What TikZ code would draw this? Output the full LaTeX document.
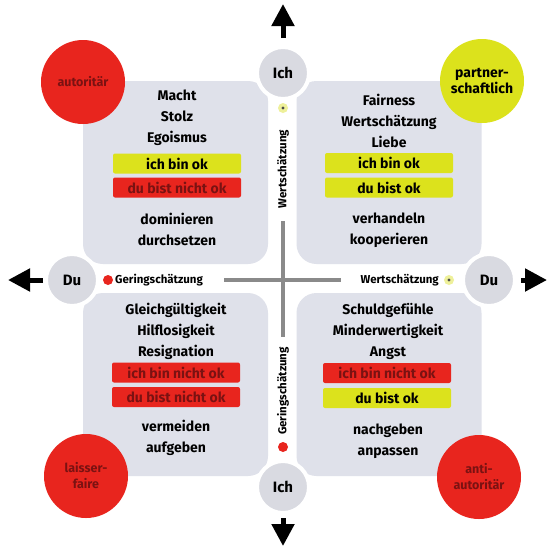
\documentclass[tikz,border=0pt]{standalone}
\usepackage{fontspec}
\setmainfont{Fira Sans}
\usetikzlibrary{arrows.meta}
\definecolor{boxgray}{HTML}{DFE1EA}
\definecolor{circgray}{HTML}{D9DAE1}
\definecolor{myred}{HTML}{E8251E}
\definecolor{myyellow}{HTML}{DCE21C}
\definecolor{darkred}{HTML}{7A1212}
\definecolor{axisgray}{HTML}{8A8A8A}
\definecolor{paleyellow}{HTML}{EEF09A}
\begin{document}
\begin{tikzpicture}[x=1pt,y=-1pt,
  quad/.style={fill=boxgray, rounded corners=20pt, minimum width=185pt, minimum height=183pt, inner sep=0pt},
  bigtext/.style={align=center, font=\fontsize{14}{21}\selectfont\bfseries, inner sep=0pt},
  ybar/.style={fill=myyellow, rounded corners=2pt, minimum width=128pt, minimum height=20pt, inner sep=0pt, font=\fontsize{14}{15}\selectfont\bfseries},
  rbar/.style={fill=myred, rounded corners=2pt, minimum width=128pt, minimum height=20pt, inner sep=0pt, text=darkred, font=\fontsize{14}{15}\selectfont\bfseries},
  axcirc/.style={circle, fill=circgray, draw=white, line width=4pt, minimum size=52pt, inner sep=0pt, font=\fontsize{15}{16}\selectfont\bfseries},
  stylecirc/.style={circle, minimum size=84pt, inner sep=0pt, align=center, font=\fontsize{12.5}{16}\selectfont\bfseries},
  smalltext/.style={font=\fontsize{11.5}{12}\selectfont\bfseries, inner sep=0pt},
  bigarrow/.style={-{Triangle[width=22pt,length=22pt]}, line width=5pt},
  axisline/.style={draw=axisgray, line width=4pt}
]
\useasboundingbox (0,0) rectangle (548,547);
\fill[white] (0,0) rectangle (548,547);

% quadrant boxes
\node[quad] (qTL) at (175.5,172.5) {};
\node[quad] (qTR) at (389,172.5) {};
\node[quad] (qBL) at (175.5,384.5) {};
\node[quad] (qBR) at (389,384.5) {};

% axis lines
\coordinate (vT) at (283,221);
\coordinate (vB) at (283,337);
\coordinate (hL) at (224,280);
\coordinate (hR) at (341,280);
\draw[axisline] (vT) -- (vB);
\draw[axisline] (hL) -- (hR);

% axis circles
\node[axcirc] (ichT) at (283,73) {Ich};
\node[axcirc] (ichB) at (283,487) {Ich};
\node[axcirc] (duL) at (72,280) {Du};
\node[axcirc] (duR) at (489,280) {Du};

% arrows
\coordinate (aU1) at (283,38);
\coordinate (aU2) at (283,4);
\coordinate (aD1) at (283,518);
\coordinate (aD2) at (283,546);
\coordinate (aL1) at (43,280);
\coordinate (aL2) at (8,280);
\coordinate (aR1) at (521,280);
\coordinate (aR2) at (547,280);
\draw[bigarrow] (aU1) -- (aU2);
\draw[bigarrow] (aD1) -- (aD2);
\draw[bigarrow] (aL1) -- (aL2);
\draw[bigarrow] (aR1) -- (aR2);

% dots
\node[circle, fill=paleyellow, minimum size=10pt, inner sep=0pt] (dotT) at (283,108) {};
\fill[black!70] (dotT) circle (1.6pt);
\node[circle, fill=myred, minimum size=10pt, inner sep=0pt] (dotB) at (283,447) {};
\node[circle, fill=myred, minimum size=10pt, inner sep=0pt] (dotL) at (108,280) {};
\node[circle, fill=paleyellow, minimum size=10pt, inner sep=0pt] (dotR) at (449,280) {};
\fill[black!70] (dotR) circle (1.6pt);

% axis labels
\node[smalltext, rotate=90] (lblT) at (283,169) {Wertschätzung};
\node[smalltext, rotate=90] (lblB) at (283,391) {Geringschätzung};
\node[smalltext, anchor=west] (lblL) at (115,280) {Geringschätzung};
\node[smalltext, anchor=east] (lblR) at (439,280) {Wertschätzung};

% style circles
\node[stylecirc, fill=myred, text=darkred] (autor) at (83,82) {autoritär};
\node[stylecirc, fill=myyellow] (partner) at (482,81) {\fontsize{14}{18}\selectfont partner-\\\fontsize{14}{18}\selectfont schaftlich};
\node[stylecirc, fill=myred, text=darkred] (laissez) at (86,476) {laisser-\\faire};
\node[stylecirc, fill=myred, text=darkred] (anti) at (479,477) {anti-\\autoritär};

% top-left
\node[bigtext] (tlA) at (177,118) {Macht\\Stolz\\Egoismus};
\node[ybar] (tlY) at (177,163.5) {ich bin ok};
\node[rbar] (tlR) at (177,187.5) {du bist nicht ok};
\node[bigtext] (tlB) at (177,229) {dominieren\\durchsetzen};

% top-right
\node[bigtext] (trA) at (389,121) {Fairness\\Wertschätzung\\Liebe};
\node[ybar] (trY) at (389,163) {ich bin ok};
\node[ybar] (trY2) at (389,187.5) {du bist ok};
\node[bigtext] (trB) at (389,230) {verhandeln\\kooperieren};

% bottom-left
\node[bigtext] (blA) at (176,331) {Gleichgültigkeit\\Hilflosigkeit\\Resignation};
\node[rbar] (blR) at (176,372.5) {ich bin nicht ok};
\node[rbar] (blR2) at (176,397) {du bist nicht ok};
\node[bigtext] (blB) at (176,438) {vermeiden\\aufgeben};

% bottom-right
\node[bigtext] (brA) at (388,331) {Schuldgefühle\\Minderwertigkeit\\Angst};
\node[rbar] (brR) at (387,373) {ich bin nicht ok};
\node[ybar] (brY) at (387,398) {du bist ok};
\node[bigtext] (brB) at (388,441) {nachgeben\\anpassen};
\end{tikzpicture}
\end{document}
